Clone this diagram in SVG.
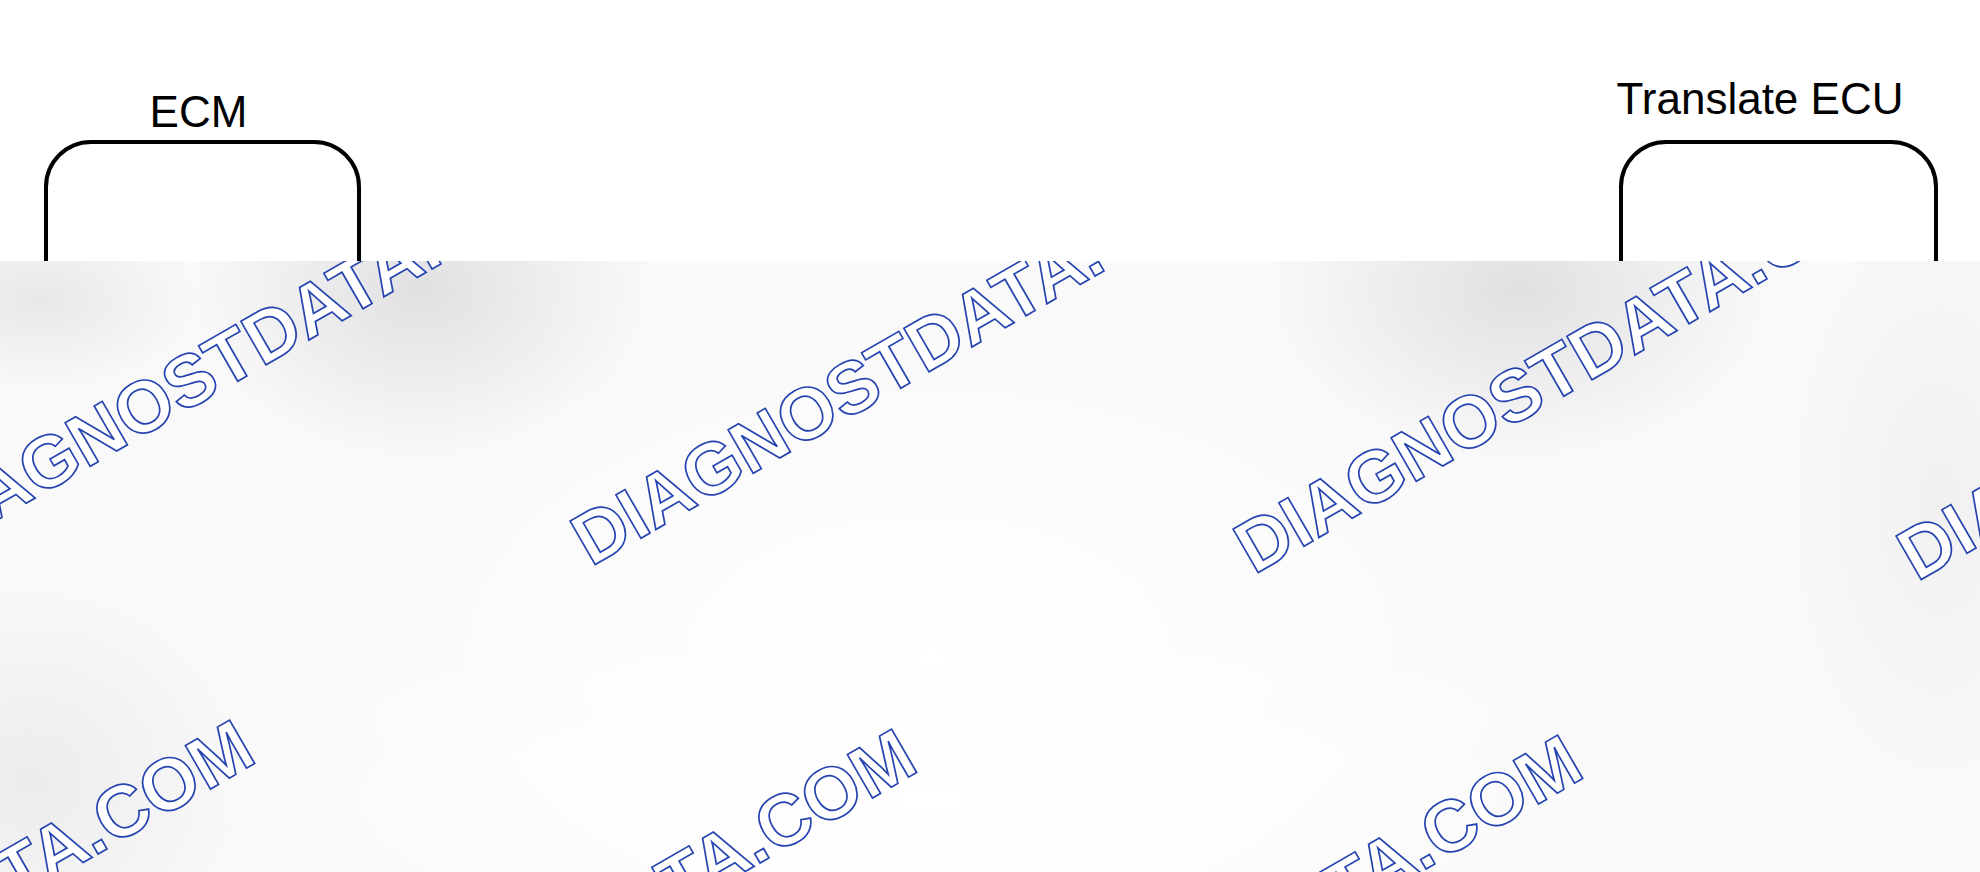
<svg xmlns="http://www.w3.org/2000/svg" width="1980" height="872" viewBox="0 0 1980 872">
  <style>
    .lbl { font-family: "Liberation Sans", Arial, sans-serif; font-size: 44px; fill: #000; }
    .box { fill: #fff; stroke: #000; stroke-width: 4; }
    .wm { font-family: "Liberation Sans", Arial, sans-serif; font-size: 73px; font-weight: bold; fill: #fff; stroke: #2544b0; stroke-width: 1.7; }
  </style>
  <defs>
    <radialGradient id="blob" cx="0.5" cy="0.5" r="0.5">
      <stop offset="0" stop-color="#dcdcde" stop-opacity="1"/>
      <stop offset="1" stop-color="#dcdcde" stop-opacity="0"/>
    </radialGradient>
    <radialGradient id="hi" cx="0.5" cy="0.5" r="0.5">
      <stop offset="0" stop-color="#ffffff" stop-opacity="1"/>
      <stop offset="1" stop-color="#ffffff" stop-opacity="0"/>
    </radialGradient>
    <clipPath id="band">
      <rect x="0" y="261" width="1980" height="611"/>
    </clipPath>
  </defs>
  <rect x="0" y="0" width="1980" height="872" fill="#fff"/>

  <g id="ecm">
    <rect class="box" x="46" y="142" width="313" height="400" rx="45" ry="45"/>
    <text class="lbl" x="198.5" y="127" text-anchor="middle">ECM</text>
  </g>
  <g id="translate-ecu">
    <rect class="box" x="1621" y="142" width="315" height="400" rx="45" ry="45"/>
    <text class="lbl" x="1760" y="114" text-anchor="middle">Translate ECU</text>
  </g>
  <g id="connectors"></g>

  <g id="overlay" clip-path="url(#band)">
    <rect x="0" y="261" width="1980" height="611" fill="#f9f9fa"/>
    <ellipse cx="420" cy="290" rx="230" ry="170" fill="url(#blob)" opacity="0.85"/>
    <ellipse cx="1520" cy="290" rx="250" ry="170" fill="url(#blob)" opacity="0.85"/>
    <ellipse cx="40" cy="300" rx="160" ry="90" fill="url(#blob)" opacity="0.6"/>
    <ellipse cx="30" cy="780" rx="220" ry="200" fill="url(#blob)" opacity="0.45"/>
    <ellipse cx="1940" cy="500" rx="160" ry="300" fill="url(#blob)" opacity="0.3"/>
    <ellipse cx="930" cy="660" rx="620" ry="360" fill="url(#hi)"/>
    <ellipse cx="930" cy="800" rx="760" ry="200" fill="url(#hi)"/>
    <g id="watermark">
      <text class="wm" x="-72" y="560" transform="rotate(-30 -72 560)">DIAGNOSTDATA.COM</text>
      <text class="wm" x="591" y="567" transform="rotate(-30 591 567)">DIAGNOSTDATA.COM</text>
      <text class="wm" x="1254" y="575" transform="rotate(-30 1254 575)">DIAGNOSTDATA.COM</text>
      <text class="wm" x="1917" y="582" transform="rotate(-30 1917 582)">DIAGNOSTDATA.COM</text>
      <text class="wm" x="-406" y="1145" transform="rotate(-30 -406 1145)">DIAGNOSTDATA.COM</text>
      <text class="wm" x="256" y="1154" transform="rotate(-30 256 1154)">DIAGNOSTDATA.COM</text>
      <text class="wm" x="922" y="1160" transform="rotate(-30 922 1160)">DIAGNOSTDATA.COM</text>
    </g>
  </g>
</svg>
